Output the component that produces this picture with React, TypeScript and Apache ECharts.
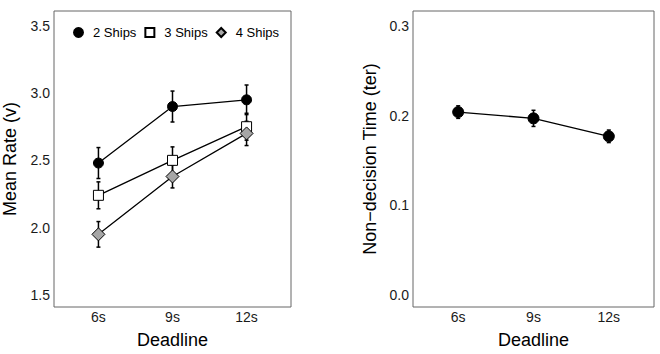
import React, { useEffect, useRef } from "react";
import * as echarts from "echarts";

const deadlines = ["6s", "9s", "12s"];
const xPos = [1, 2, 3];

const ships2 = [2.48, 2.9, 2.95];
const ships2Err = [0.115, 0.115, 0.11];
const ships3 = [2.24, 2.5, 2.75];
const ships3Err = [0.1, 0.1, 0.1];
const ships4 = [1.95, 2.38, 2.7];
const ships4Err = [0.095, 0.085, 0.09];

const terValues = [0.204, 0.197, 0.177];
const terErr = [0.007, 0.009, 0.007];

const leftTicks = [1.5, 2.0, 2.5, 3.0, 3.5];
const rightTicks = [0.0, 0.1, 0.2, 0.3];

const FONT = "Liberation Sans, Arial, Helvetica, sans-serif";

function errData(vals: number[], errs: number[]) {
  return vals.map((v, i) => [xPos[i], v - errs[i], v + errs[i]]);
}
function ptData(vals: number[]) {
  return vals.map((v, i) => [xPos[i], v]);
}

function errSeries(name: string, idx: number, data: number[][]) {
  return {
    type: "custom",
    name,
    xAxisIndex: idx,
    yAxisIndex: idx,
    z: 1,
    silent: true,
    data,
    renderItem: (params: any, api: any) => {
      const x = api.value(0);
      const lo = api.coord([x, api.value(1)]);
      const hi = api.coord([x, api.value(2)]);
      const cap = 2;
      const style = { stroke: "#000", lineWidth: 1.5 };
      return {
        type: "group",
        children: [
          { type: "line", shape: { x1: lo[0], y1: lo[1], x2: hi[0], y2: hi[1] }, style },
          { type: "line", shape: { x1: lo[0] - cap, y1: lo[1], x2: lo[0] + cap, y2: lo[1] }, style },
          { type: "line", shape: { x1: hi[0] - cap, y1: hi[1], x2: hi[0] + cap, y2: hi[1] }, style },
        ],
      };
    },
  };
}

export default function App() {
  const ref = useRef<HTMLDivElement>(null);
  useEffect(() => {
    if (!ref.current) return;
    const chart = echarts.init(ref.current, null, { renderer: "svg" });
    const xAxisBase = (gridIndex: number) => ({
      type: "value",
      gridIndex,
      min: 0.4,
      max: 3.6,
      name: "Deadline",
      nameLocation: "middle",
      nameGap: 24,
      nameTextStyle: { fontFamily: FONT, fontSize: 18, color: "#000" },
      axisLine: { show: false },
      axisTick: { show: false },
      splitLine: { show: false },
      axisLabel: {
        customValues: xPos,
        formatter: (v: number) => deadlines[Math.round(v) - 1] ?? "",
        fontFamily: FONT,
        fontSize: 14,
        color: "#1a1a1a",
        margin: 3,
      },
    });
    const option: any = {
      animation: false,
      backgroundColor: "#fff",
      grid: [
        { left: 51, top: 11, width: 240, height: 297, show: true, borderColor: "#666", borderWidth: 1, backgroundColor: "#fff" },
        { left: 413, top: 11, width: 241, height: 297, show: true, borderColor: "#666", borderWidth: 1, backgroundColor: "#fff" },
      ],
      xAxis: [xAxisBase(0), xAxisBase(1)],
      yAxis: [
        {
          type: "value",
          gridIndex: 0,
          min: 1.41,
          max: 3.61,
          name: "Mean Rate (v)",
          nameLocation: "middle",
          nameGap: 35,
          nameTextStyle: { fontFamily: FONT, fontSize: 18, color: "#000" },
          axisLine: { show: false },
          axisTick: { show: false },
          splitLine: { show: false },
          axisLabel: {
            customValues: leftTicks,
            formatter: (v: number) => v.toFixed(1),
            fontFamily: FONT,
            fontSize: 14,
            color: "#1a1a1a",
            margin: 4,
          },
        },
        {
          type: "value",
          gridIndex: 1,
          min: -0.0133,
          max: 0.3167,
          name: "Non\u2212decision Time (ter)",
          nameLocation: "middle",
          nameGap: 34,
          nameTextStyle: { fontFamily: FONT, fontSize: 18, color: "#000" },
          axisLine: { show: false },
          axisTick: { show: false },
          splitLine: { show: false },
          axisLabel: {
            customValues: rightTicks,
            formatter: (v: number) => v.toFixed(1),
            fontFamily: FONT,
            fontSize: 14,
            color: "#1a1a1a",
            margin: 4,
          },
        },
      ],
      legend: {
        left: 73,
        top: 26,
        itemWidth: 9,
        itemHeight: 9,
        itemGap: 8,
        padding: 0,
        data: [
          { name: "2 Ships", icon: "circle" },
          { name: "3 Ships", icon: "rect" },
          { name: "4 Ships", icon: "diamond" },
        ],
        textStyle: { fontFamily: FONT, fontSize: 13, color: "#000", padding: [0, 0, 0, 5] },
      },
      series: [
        errSeries("e2", 0, errData(ships2, ships2Err)),
        errSeries("e3", 0, errData(ships3, ships3Err)),
        errSeries("e4", 0, errData(ships4, ships4Err)),
        errSeries("eter", 1, errData(terValues, terErr)),
        {
          type: "line",
          name: "2 Ships",
          xAxisIndex: 0,
          yAxisIndex: 0,
          data: ptData(ships2),
          symbol: "circle",
          symbolSize: 10,
          z: 3,
          lineStyle: { color: "#000", width: 1.3 },
          itemStyle: { color: "#000", borderColor: "#000", borderWidth: 1 },
        },
        {
          type: "line",
          name: "3 Ships",
          xAxisIndex: 0,
          yAxisIndex: 0,
          data: ptData(ships3),
          symbol: "rect",
          symbolSize: 10,
          z: 3,
          lineStyle: { color: "#000", width: 1.3 },
          itemStyle: { color: "#fff", borderColor: "#000", borderWidth: 1 },
        },
        {
          type: "line",
          name: "4 Ships",
          xAxisIndex: 0,
          yAxisIndex: 0,
          data: ptData(ships4),
          symbol: "diamond",
          symbolSize: 13,
          z: 3,
          lineStyle: { color: "#000", width: 1.3 },
          itemStyle: { color: "#a6a6a6", borderColor: "#000", borderWidth: 1 },
        },
        {
          type: "line",
          name: "ter",
          xAxisIndex: 1,
          yAxisIndex: 1,
          data: ptData(terValues),
          symbol: "circle",
          symbolSize: 11,
          z: 3,
          lineStyle: { color: "#000", width: 1.3 },
          itemStyle: { color: "#000", borderColor: "#000", borderWidth: 1 },
        },
      ],
    };
    chart.setOption(option);
    return () => chart.dispose();
  }, []);
  return <div ref={ref} style={{ width: 660, height: 354, position: "absolute", left: 0, top: 0 }} />;
}
